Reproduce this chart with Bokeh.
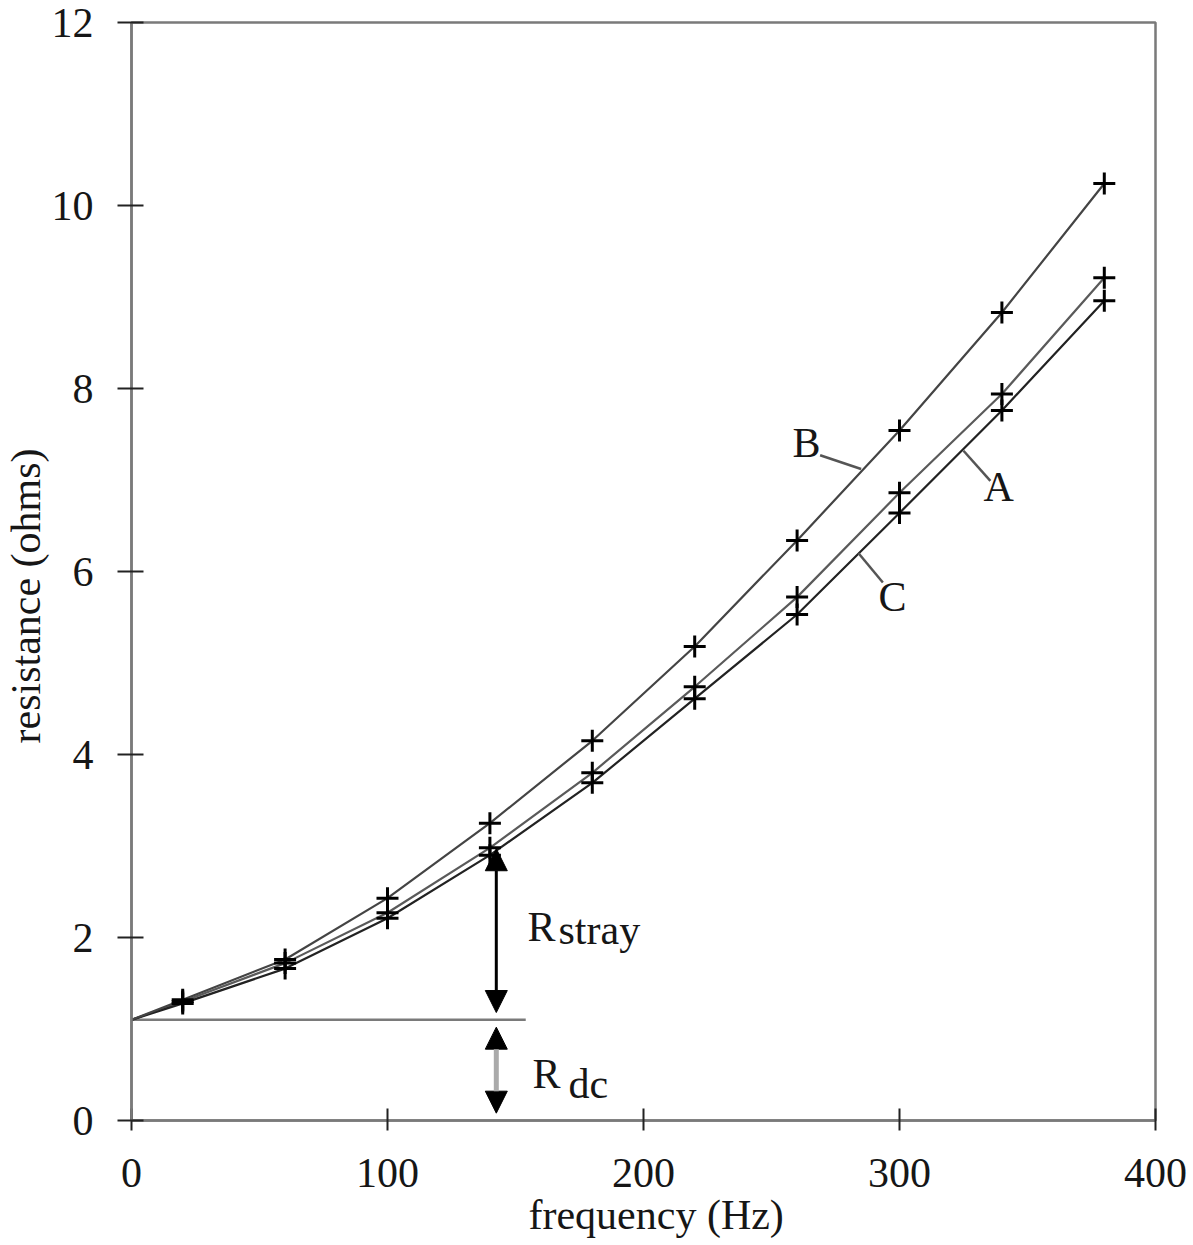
from bokeh.plotting import figure
from bokeh.models import Range1d, FixedTicker, Arrow, NormalHead, Title
from bokeh.embed import file_html
from bokeh.resources import INLINE
from bokeh.core.properties import value

# ---- data ----
freq = [20, 60, 100, 140, 180, 220, 260, 300, 340, 380]
res_A = [1.28, 1.66, 2.21, 2.90, 3.69, 4.61, 5.53, 6.64, 7.76, 8.96]
res_B = [1.32, 1.76, 2.43, 3.25, 4.15, 5.18, 6.34, 7.54, 8.83, 10.24]
res_C = [1.30, 1.72, 2.27, 2.98, 3.80, 4.74, 5.72, 6.86, 7.94, 9.21]
r_dc = 1.1
x_ticks = [0, 100, 200, 300, 400]
y_ticks = [0, 2, 4, 6, 8, 10, 12]

FONT = "Liberation Serif"
TXT = "#161616"
AX = "#7a7a7a"

p = figure(width=1191, height=1245,
           x_range=Range1d(0, 400), y_range=Range1d(0, 12),
           output_backend="svg", toolbar_location=None,
           min_border_left=131, min_border_right=36,
           min_border_top=22, min_border_bottom=125)
p.grid.visible = False
p.outline_line_color = AX
p.outline_line_width = 2.5
p.background_fill_color = "white"
p.border_fill_color = "white"

p.xaxis.ticker = FixedTicker(ticks=x_ticks)
p.yaxis.ticker = FixedTicker(ticks=y_ticks)
for ax in (p.xaxis, p.yaxis):
    ax.axis_line_color = AX
    ax.axis_line_width = 2.5
    ax.major_tick_line_color = "#222222"
    ax.major_tick_line_width = 2
    ax.minor_tick_line_color = None
    ax.major_label_text_font = FONT
    ax.major_label_text_font_size = "42px"
    ax.major_label_text_color = TXT
p.xaxis.major_tick_in = 12
p.xaxis.major_tick_out = 10
p.xaxis.major_label_standoff = 28
p.yaxis.major_tick_in = 12
p.yaxis.major_tick_out = 14
p.yaxis.major_label_standoff = 24

# axis titles, placed as in the reference (slightly off-centre)
p.add_layout(Title(text="frequency (Hz)", align="left", offset=397,
                   vertical_align="top", standoff=4,
                   text_font=FONT, text_font_size="42px",
                   text_font_style="normal", text_color=TXT), "below")
p.add_layout(Title(text="resistance (ohms)", align="left", offset=377,
                   standoff=0, text_font=FONT, text_font_size="42px",
                   text_font_style="normal", text_color=TXT), "left")

# Rdc reference line
p.line([0, 154], [r_dc, r_dc], line_color=AX, line_width=2.5)

# curves (start at the dc resistance at 0 Hz)
p.line([0] + freq, [r_dc] + res_C, line_color="#5a5a5a", line_width=2.2)
p.line([0] + freq, [r_dc] + res_A, line_color="#222222", line_width=2.2)
p.line([0] + freq, [r_dc] + res_B, line_color="#444444", line_width=2.2)

for ys in (res_A, res_C, res_B):
    p.scatter(freq, ys, marker="cross", size=22, line_width=3, line_color="black")

# leader lines for curve labels
p.segment(x0=[269, 325, 284], y0=[7.27, 7.32, 6.20],
          x1=[285, 335.5, 293.5], y1=[7.12, 6.99, 5.88],
          line_color="#555555", line_width=2.5)

p.text(x=[263.7, 338.7, 297.3], y=[7.40, 6.92, 5.72], text=["B", "A", "C"],
       text_font=value(FONT), text_font_size="42px", text_color=TXT,
       text_align="center", text_baseline="middle")

# arrows
p.add_layout(Arrow(x_start=142.5, y_start=1.18, x_end=142.5, y_end=2.97,
                   line_color="black", line_width=3,
                   start=NormalHead(size=22, fill_color="black", line_color="black"),
                   end=NormalHead(size=22, fill_color="black", line_color="black")))
p.add_layout(Arrow(x_start=142.5, y_start=0.08, x_end=142.5, y_end=1.02,
                   line_color="#aaaaaa", line_width=5,
                   start=NormalHead(size=22, fill_color="black", line_color="black"),
                   end=NormalHead(size=22, fill_color="black", line_color="black")))

p.text(x=[154.7, 156.6], y=[2.11, 0.503], text=["R", "R"],
       text_font=value(FONT), text_font_size="42px", text_color=TXT,
       text_align="left", text_baseline="alphabetic")
p.text(x=[166.8, 170.7], y=[2.08, 0.404], text=["stray", "dc"],
       text_font=value(FONT), text_font_size="42px", text_color=TXT,
       text_align="left", text_baseline="alphabetic")

open("out.html", "w").write(file_html(p, INLINE))
